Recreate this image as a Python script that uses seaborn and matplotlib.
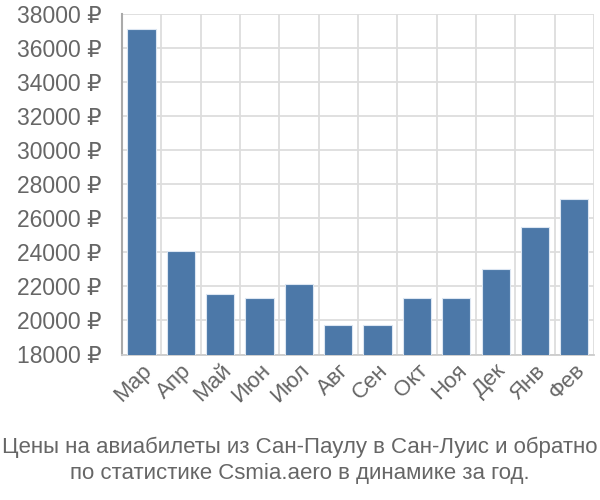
import numpy as np
import pandas as pd
import matplotlib
matplotlib.use("Agg")
import matplotlib.pyplot as plt
from matplotlib.ticker import FixedLocator, FuncFormatter
import seaborn as sns

months = ["Мар", "Апр", "Май", "Июн", "Июл", "Авг", "Сен", "Окт", "Ноя", "Дек", "Янв", "Фев"]
prices = [37100, 24080, 21580, 21300, 22150, 19720, 19720, 21300, 21300, 23040, 25470, 27130]
title_lines = ["Цены на авиабилеты из Сан-Паулу в Сан-Луис и обратно",
               "по статистике Csmia.aero в динамике за год."]

sns.set_theme(style="white")
plt.rcParams['font.family'] = ['Liberation Sans', 'DejaVu Sans']

df = pd.DataFrame({"month": months, "price": prices})

fig = plt.figure(figsize=(6, 5), dpi=100)
ax = fig.add_axes([0.2033, 0.291, 0.7867, 0.681])

sns.barplot(data=df, x="month", y="price", color="#4c78a8", saturation=1,
            width=0.72, edgecolor="#dce6f2", linewidth=0.8, ax=ax, zorder=3)

ax.set_ylim(18000, 38000)
ax.set_xlim(-0.5, len(months) - 0.5)
ax.set_yticks(np.arange(18000, 38001, 2000))
ax.yaxis.set_major_formatter(FuncFormatter(lambda v, p: "{:d} ₽".format(int(v))))

ax.xaxis.set_minor_locator(FixedLocator(np.arange(-0.5, len(months), 1)))
ax.grid(True, which="minor", axis="x", color="#dddddd", linewidth=1.3, zorder=0)
ax.grid(True, which="major", axis="y", color="#dddddd", linewidth=1.3, zorder=0)
ax.grid(False, which="major", axis="x")

ax.tick_params(axis="x", which="major", length=0, labelsize=16, labelcolor="#666666", pad=4)
ax.tick_params(axis="x", which="minor", length=13, width=1.3, color="#dddddd")
ax.tick_params(axis="y", length=14, width=1.3, color="#dddddd", labelsize=16.5,
               labelcolor="#666666", pad=1)
plt.setp(ax.get_xticklabels(), rotation=45, ha="right", rotation_mode="anchor")

ax.set_xlabel("")
ax.set_ylabel("")
for s in ["top", "right"]:
    ax.spines[s].set_visible(False)
ax.spines["left"].set_color("#aaaaaa")
ax.spines["left"].set_linewidth(1.5)
ax.spines["bottom"].set_color("#cccccc")
ax.spines["bottom"].set_linewidth(1.3)

fig.text(0.5, 0.106, title_lines[0], ha="center", va="center", fontsize=16, color="#666666")
fig.text(0.5, 0.052, title_lines[1], ha="center", va="center", fontsize=16, color="#666666")

fig.savefig("out.png", dpi=100)
